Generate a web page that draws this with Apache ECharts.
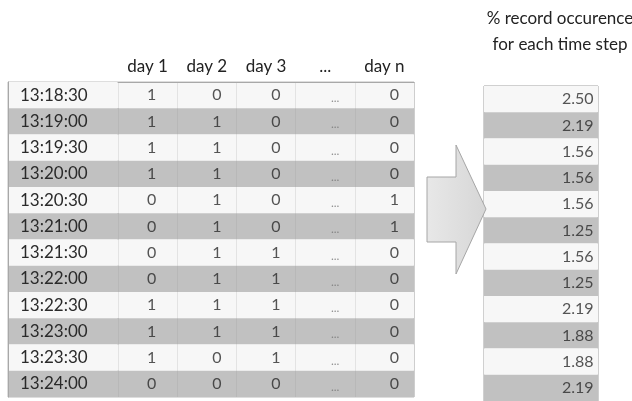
<!DOCTYPE html>
<html><head><meta charset="utf-8">
<script src="https://cdn.jsdelivr.net/npm/echarts@6/dist/echarts.min.js"></script>
<style>html,body{margin:0;padding:0;background:#fff}#c{width:632px;height:401px}</style>
</head><body><div id="c"></div>
<script>
const times = ['13:18:30','13:19:00','13:19:30','13:20:00','13:20:30','13:21:00','13:21:30','13:22:00','13:22:30','13:23:00','13:23:30','13:24:00'];
const columns = ['day 1','day 2','day 3','...','day n'];
const day1 = [1,1,1,1,0,0,0,0,1,1,1,0];
const day2 = [0,1,1,1,1,1,1,1,1,1,0,0];
const day3 = [0,0,0,0,0,0,1,1,1,1,1,0];
const dots = ['...','...','...','...','...','...','...','...','...','...','...','...'];
const dayN = [0,0,0,0,1,1,0,0,0,0,0,0];
const pct = [2.50,2.19,1.56,1.56,1.56,1.25,1.56,1.25,2.19,1.88,1.88,2.19];
const titleText = '% record occurence\nfor each time step';

const FONT = 'Lato';
const stripes = ['#f7f7f7', '#c1c1c1'];
const colValues = [day1, day2, day3, dots, dayN];

const chart = echarts.init(document.getElementById('c'), null, {renderer: 'canvas'});

const tableSeries = colValues.map((vals, c) => ({
  type: 'scatter', xAxisIndex: 1, yAxisIndex: 1,
  symbolSize: 1, itemStyle: {color: 'rgba(0,0,0,0)'},
  silent: true,
  data: vals.map((v, r) => [c, r, v]),
  label: {
    show: true, position: 'inside',
    offset: c === 3 ? [10, 3] : (c === 0 ? [4, 0] : [10, 0]),
    formatter: p => String(p.value[2]),
    fontFamily: FONT,
    fontSize: c === 3 ? 12 : 16,
    color: c === 3 ? '#777' : '#2a2a2a'
  }
}));

const option = {
  animation: false,
  backgroundColor: '#fff',
  title: {
    text: titleText, left: 555, top: 1, textAlign: 'center',
    textStyle: {fontFamily: FONT, fontSize: 17, fontWeight: 'normal', color: '#222', lineHeight: 26}
  },
  grid: [
    {left: 8, top: 82, width: 110, height: 315, show: true, borderColor: '#bcbcbc', borderWidth: 1, backgroundColor: 'transparent'},
    {left: 118, top: 82, width: 296, height: 315, show: true, borderColor: '#bcbcbc', borderWidth: 1, backgroundColor: 'transparent'},
    {left: 484, top: 86, width: 114, height: 315, show: true, borderColor: '#a0a0a0', borderWidth: 1, backgroundColor: 'transparent'}
  ],
  xAxis: [
    {gridIndex: 0, type: 'category', data: [''], show: false},
    {gridIndex: 1, type: 'category', data: columns, position: 'top',
     axisLine: {show: true, lineStyle: {color: '#a8a8a8'}}, axisTick: {show: false},
     axisLabel: {fontFamily: FONT, fontSize: 17, color: '#222', margin: 7},
     splitLine: {show: true, lineStyle: {color: 'rgba(150,150,150,0.2)'}}},
    {gridIndex: 2, type: 'value', min: 0, max: 1, show: false}
  ],
  yAxis: [
    {gridIndex: 0, type: 'category', data: times, inverse: true,
     axisLine: {show: true, lineStyle: {color: '#a8a8a8'}}, axisTick: {show: false},
     axisLabel: {inside: true, margin: 12, fontFamily: FONT, fontSize: 17, color: '#2a2a2a'},
     splitArea: {show: true, areaStyle: {color: stripes}}},
    {gridIndex: 1, type: 'category', data: times, inverse: true,
     axisLine: {show: false}, axisTick: {show: false}, axisLabel: {show: false},
     splitArea: {show: true, areaStyle: {color: stripes}}},
    {gridIndex: 2, type: 'category', data: times, inverse: true,
     axisLine: {show: false}, axisTick: {show: false}, axisLabel: {show: false},
     splitArea: {show: true, areaStyle: {color: stripes}}}
  ],
  series: tableSeries.concat([{
    type: 'scatter', xAxisIndex: 2, yAxisIndex: 2,
    symbolSize: 1, itemStyle: {color: 'rgba(0,0,0,0)'}, silent: true,
    data: pct.map((v, r) => [1, r, v]),
    label: {show: true, position: 'left', distance: 4,
      formatter: p => p.value[2].toFixed(2),
      fontFamily: FONT, fontSize: 16, color: '#2a2a2a'}
  }]),
  graphic: [{
    type: 'polygon', z: 10,
    shape: {points: [[427,177],[456,177],[456,145],[486,209],[456,274],[456,242],[427,242]]},
    style: {
      fill: new echarts.graphic.LinearGradient(0, 0, 1, 0, [{offset: 0, color: '#e8e8e8'}, {offset: 1, color: '#d6d6d6'}]),
      stroke: '#a6a6a6', lineWidth: 1
    }
  }]
};
chart.setOption(option);
</script></body></html>
